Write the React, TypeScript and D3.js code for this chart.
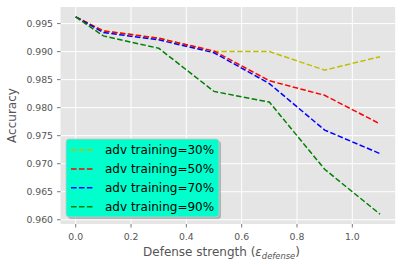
import * as d3 from 'd3';

// defense strength values on the x axis
const strengths = [0, 0.1, 0.3, 0.5, 0.7, 0.9, 1.1];

// accuracy per adversarial-training share
const acc30 = [0.9962, 0.9937, 0.9924, 0.99, 0.99, 0.9867, 0.9891];
const acc50 = [0.9962, 0.9937, 0.9924, 0.9901, 0.9848, 0.9822, 0.9771];
const acc70 = [0.9962, 0.9934, 0.9921, 0.9898, 0.9843, 0.976, 0.9718];
const acc90 = [0.9962, 0.9928, 0.9906, 0.9829, 0.981, 0.969, 0.961];

const seriesNames = ['adv training=30%', 'adv training=50%', 'adv training=70%', 'adv training=90%'];
const seriesColors = ['#bfbf00', '#ff0000', '#0000ff', '#008000'];
const xTicks = [0, 0.2, 0.4, 0.6, 0.8, 1.0];
const yTicks = [0.96, 0.965, 0.97, 0.975, 0.98, 0.985, 0.99, 0.995];

const W = 401;
const H = 265;
const LEFT = 60.5;
const RIGHT = 395.2;
const TOP = 7;
const BOTTOM = 224;
const FONT = 'DejaVu Sans, sans-serif';

const padded = (lo: number, hi: number): [number, number] => {
  const m = (hi - lo) * 0.05;
  return [lo - m, hi + m];
};

export default function App() {
  const series = [acc30, acc50, acc70, acc90];
  const allY = series.flat();

  const x = d3.scaleLinear().domain(padded(d3.min(strengths)!, d3.max(strengths)!)).range([LEFT, RIGHT]);
  const y = d3.scaleLinear().domain(padded(d3.min(allY)!, d3.max(allY)!)).range([BOTTOM, TOP]);

  const line = d3
    .line<number>()
    .x((_, i) => x(strengths[i]))
    .y((d) => y(d));

  const fx = d3.format('.1f');
  const fy = d3.format('.3f');

  // legend box
  const lgX = 66;
  const lgY = 139;
  const lgW = 153;
  const lgH = 78;
  const rowH = 18.9;

  return (
    <svg
      width={W}
      height={H}
      style={{ position: 'absolute', left: 0, top: 0, background: '#fff' }}
      fontFamily={FONT}
    >
      <rect x={LEFT} y={TOP} width={RIGHT - LEFT} height={BOTTOM - TOP} fill="#e5e5e5" />

      {xTicks.map((t) => (
        <g key={'x' + t}>
          <line x1={x(t)} x2={x(t)} y1={TOP} y2={BOTTOM} stroke="#fff" strokeWidth={1} />
          <line x1={x(t)} x2={x(t)} y1={BOTTOM} y2={BOTTOM + 3.5} stroke="#555" strokeWidth={0.8} />
          <text x={x(t)} y={240} fontSize={9.3} fill="#555" textAnchor="middle">
            {fx(t)}
          </text>
        </g>
      ))}
      {yTicks.map((t) => (
        <g key={'y' + t}>
          <line x1={LEFT} x2={RIGHT} y1={y(t)} y2={y(t)} stroke="#fff" strokeWidth={1} />
          <line x1={LEFT - 3.5} x2={LEFT} y1={y(t)} y2={y(t)} stroke="#555" strokeWidth={0.8} />
          <text x={53} y={y(t) + 3.4} fontSize={9.3} fill="#555" textAnchor="end">
            {fy(t)}
          </text>
        </g>
      ))}

      {series.map((s, i) => (
        <path
          key={i}
          d={line(s)!}
          fill="none"
          stroke={seriesColors[i]}
          strokeWidth={1.5}
          strokeDasharray="5.55 2.4"
        />
      ))}

      {/* legend */}
      <rect x={lgX + 2} y={lgY + 2} width={lgW} height={lgH} rx={3} fill="#808080" opacity={0.5} />
      <rect x={lgX} y={lgY} width={lgW} height={lgH} rx={3} fill="#00ffcc" stroke="#c8c8c8" strokeWidth={0.8} />
      {seriesNames.map((name, i) => {
        const cy = 150 + i * rowH;
        return (
          <g key={name}>
            <line
              x1={71}
              x2={93}
              y1={cy}
              y2={cy}
              stroke={seriesColors[i]}
              strokeWidth={1.5}
              strokeDasharray="5.55 2.4"
            />
            <text x={105} y={cy + 4.3} fontSize={12} fill="#000">
              {name}
            </text>
          </g>
        );
      })}

      <text x={221.5} y={256} fontSize={12} fill="#555" textAnchor="middle">
        Defense strength (<tspan fontStyle="italic">ε</tspan>
        <tspan fontStyle="italic" fontSize={8.4} dy={2.5}>
          defense
        </tspan>
        <tspan dy={-2.5}>)</tspan>
      </text>
      <text
        transform={`translate(16, ${(TOP + BOTTOM) / 2}) rotate(-90)`}
        fontSize={12}
        fill="#555"
        textAnchor="middle"
      >
        Accuracy
      </text>
    </svg>
  );
}
